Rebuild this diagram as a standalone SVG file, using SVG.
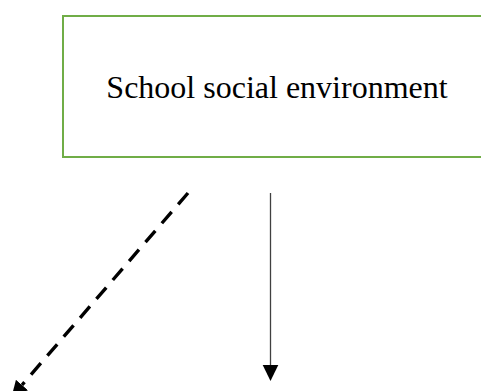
<svg xmlns="http://www.w3.org/2000/svg" width="481" height="391" viewBox="0 0 481 391">
  <style>
    .box { fill: #ffffff; stroke: #70AD47; stroke-width: 2; }
    .label { font-family: "Liberation Serif", "Times New Roman", serif; font-size: 32px; fill: #000000; }
    .solid { stroke: #404040; stroke-width: 1.3; fill: none; }
    .dashed { stroke: #000000; stroke-width: 3.4; fill: none; stroke-dasharray: 15 10; }
  </style>
  <defs>
    <marker id="head" markerUnits="userSpaceOnUse" markerWidth="16" markerHeight="16" refX="0" refY="8" orient="auto">
      <path d="M0,0 L16,8 L0,16 Z" fill="#000000"/>
    </marker>
  </defs>
  <rect width="481" height="391" fill="#ffffff"/>
  <g id="school-social-environment">
    <rect class="box" x="63" y="16" width="430" height="141"/>
    <text class="label" x="277" y="98" text-anchor="middle">School social environment</text>
  </g>
  <g id="connectors">
    <line class="solid" x1="270.5" y1="193" x2="270.5" y2="366"/>
    <path d="M262.7,365 L278.3,365 L270.5,381 Z" fill="#000000"/>
    <line class="dashed" x1="188" y1="193" x2="22" y2="385" marker-end="url(#head)"/>
  </g>
</svg>
